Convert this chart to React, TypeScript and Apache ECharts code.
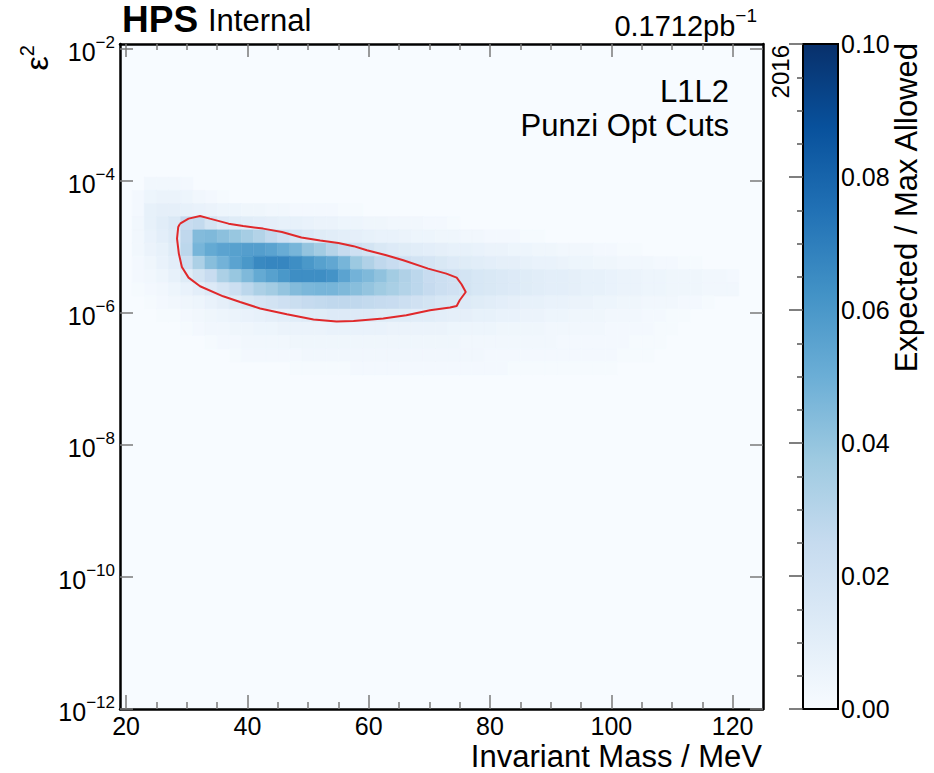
import React, { useEffect, useRef } from "react";
import * as echarts from "echarts";

// Mass bins (MeV): bin centres, 2 MeV wide
const massBinCenters = [
  22, 24, 26, 28, 30, 32, 34, 36, 38, 40, 42, 44, 46, 48, 50, 52, 54, 56, 58, 60,
  62, 64, 66, 68, 70, 72, 74, 76, 78, 80, 82, 84, 86, 88, 90, 92, 94, 96, 98, 100,
  102, 104, 106, 108, 110, 112, 114, 116, 118, 120,
];
const massBinWidth = 2;

// log10(eps^2): lower edge of each row of the ratio map
const logEps2BinLow = [
  -4.14, -4.34, -4.54, -4.74, -4.94, -5.14, -5.34, -5.54, -5.74, -5.94, -6.14, -6.34, -6.54, -6.74, -6.94,
];
const logEps2BinHeight = 0.2;

// Expected / max allowed, in units of 1e-3, one row per eps^2 bin (mass 22 .. 120 MeV)
const ratioRow414 = [0, 3, 3, 3, 2, 0, 0, 0, 0, 0, 0, 0, 0, 0, 0, 0, 0, 0, 0, 0, 0, 0, 0, 0, 0, 0, 0, 0, 0, 0, 0, 0, 0, 0, 0, 0, 0, 0, 0, 0, 0, 0, 0, 0, 0, 0, 0, 0, 0, 0];
const ratioRow434 = [2, 5, 6, 6, 5, 3, 2, 1, 0, 0, 0, 0, 0, 0, 0, 0, 0, 0, 0, 0, 0, 0, 0, 0, 0, 0, 0, 0, 0, 0, 0, 0, 0, 0, 0, 0, 0, 0, 0, 0, 0, 0, 0, 0, 0, 0, 0, 0, 0, 0];
const ratioRow454 = [2, 8, 9, 9, 8, 7, 6, 5, 5, 4, 4, 3, 3, 2, 2, 2, 2, 1, 1, 0, 0, 0, 0, 0, 0, 0, 0, 0, 0, 0, 0, 0, 0, 0, 0, 0, 0, 0, 0, 0, 0, 0, 0, 0, 0, 0, 0, 0, 0, 0];
const ratioRow474 = [3, 8, 11, 14, 24, 26, 18, 13, 12, 11, 10, 9, 8, 8, 7, 6, 6, 5, 5, 4, 4, 3, 3, 3, 2, 2, 1, 0, 0, 0, 0, 0, 0, 0, 0, 0, 0, 0, 0, 0, 0, 0, 0, 0, 0, 0, 0, 0, 0, 0];
const ratioRow494 = [3, 7, 10, 13, 27, 44, 45, 42, 39, 35, 31, 26, 21, 17, 14, 12, 11, 10, 9, 8, 7, 7, 6, 5, 5, 4, 4, 3, 3, 2, 2, 2, 1, 1, 0, 0, 0, 0, 0, 0, 0, 0, 0, 0, 0, 0, 0, 0, 0, 0];
const ratioRow514 = [3, 6, 8, 12, 28, 47, 52, 55, 56, 57, 57, 55, 51, 47, 40, 36, 30, 25, 21, 18, 15, 13, 12, 11, 10, 9, 8, 8, 7, 6, 6, 5, 5, 4, 4, 3, 3, 3, 2, 2, 1, 1, 0, 0, 0, 0, 0, 0, 0, 0];
const ratioRow534 = [2, 4, 7, 10, 22, 33, 43, 48, 55, 60, 66, 67, 67, 64, 60, 56, 53, 47, 38, 32, 27, 24, 21, 19, 17, 15, 13, 12, 11, 10, 9, 9, 8, 7, 7, 6, 5, 5, 4, 4, 3, 3, 3, 2, 2, 1, 1, 0, 0, 0];
const ratioRow554 = [2, 3, 5, 8, 12, 18, 24, 33, 39, 45, 52, 56, 60, 64, 64, 64, 62, 55, 48, 45, 41, 36, 32, 28, 24, 22, 20, 18, 16, 15, 14, 13, 12, 11, 10, 10, 9, 8, 8, 7, 6, 6, 5, 5, 4, 4, 4, 3, 3, 2];
const ratioRow574 = [1, 2, 3, 5, 7, 10, 13, 17, 22, 28, 33, 36, 40, 44, 46, 47, 47, 45, 43, 40, 37, 34, 31, 28, 25, 22, 20, 18, 16, 15, 14, 13, 12, 11, 10, 10, 9, 8, 8, 7, 6, 6, 5, 5, 4, 4, 4, 3, 3, 3];
const ratioRow594 = [0, 1, 2, 3, 4, 5, 7, 9, 12, 15, 17, 19, 21, 23, 25, 26, 27, 27, 27, 26, 25, 24, 22, 20, 18, 16, 15, 13, 12, 11, 10, 9, 8, 8, 7, 7, 6, 6, 5, 5, 4, 4, 3, 3, 3, 2, 2, 1, 0, 0];
const ratioRow614 = [0, 0, 1, 1, 2, 3, 4, 5, 6, 7, 8, 9, 10, 11, 12, 12, 13, 13, 13, 13, 12, 12, 12, 11, 11, 10, 9, 9, 8, 8, 7, 7, 6, 6, 5, 5, 4, 4, 4, 3, 3, 3, 2, 2, 1, 1, 0, 0, 0, 0];
const ratioRow634 = [0, 0, 0, 0, 1, 2, 3, 3, 4, 4, 5, 5, 6, 6, 6, 6, 7, 7, 7, 7, 7, 6, 6, 6, 6, 6, 5, 5, 5, 5, 4, 4, 4, 4, 3, 3, 3, 3, 3, 2, 2, 2, 2, 1, 1, 0, 0, 0, 0, 0];
const ratioRow654 = [0, 0, 0, 0, 0, 0, 1, 2, 2, 3, 3, 3, 3, 4, 4, 4, 4, 4, 4, 4, 4, 4, 4, 4, 4, 4, 4, 3, 3, 3, 3, 3, 3, 3, 3, 2, 2, 2, 2, 2, 2, 1, 1, 1, 0, 0, 0, 0, 0, 0];
const ratioRow674 = [0, 0, 0, 0, 0, 0, 0, 0, 1, 2, 2, 2, 2, 2, 3, 3, 3, 3, 3, 3, 3, 3, 3, 3, 3, 3, 3, 3, 3, 2, 2, 2, 2, 2, 2, 2, 2, 2, 2, 2, 1, 1, 1, 0, 0, 0, 0, 0, 0, 0];
const ratioRow694 = [0, 0, 0, 0, 0, 0, 0, 0, 0, 0, 0, 0, 0, 1, 1, 1, 1, 1, 2, 2, 2, 2, 2, 2, 2, 2, 2, 2, 2, 2, 2, 1, 1, 1, 1, 1, 1, 1, 1, 1, 0, 0, 0, 0, 0, 0, 0, 0, 0, 0];
const ratioRowsPerMille = [
  ratioRow414, ratioRow434, ratioRow454, ratioRow474, ratioRow494, ratioRow514, ratioRow534, ratioRow554,
  ratioRow574, ratioRow594, ratioRow614, ratioRow634, ratioRow654, ratioRow674, ratioRow694,
];

// Sensitivity contour: mass (MeV) and eps^2 of each vertex
const contourMass = [
  28.9, 30.3, 32.2, 33.8, 36.9, 39.3, 42.6, 45.7, 48.9, 52.0, 55.0, 57.5, 59.7, 62.9, 65.7, 69.8, 72.8, 74.5, 75.3, 76.0,
  75.0, 74.5, 73.4, 70.1, 66.2, 62.4, 57.5, 54.7, 50.9, 46.5, 42.1, 38.8, 36.0, 32.2, 30.3, 29.2, 28.7, 28.4, 28.6,
];
const contourEps2 = [
  2.26e-5, 2.69e-5, 2.95e-5, 2.69e-5, 2.26e-5, 2.08e-5, 1.9e-5, 1.69e-5, 1.39e-5, 1.26e-5, 1.15e-5, 1.03e-5, 8.91e-6,
  7.5e-6, 6.3e-6, 4.71e-6, 3.95e-6, 3.44e-6, 2.73e-6, 2.08e-6, 1.56e-6, 1.28e-6, 1.21e-6, 1.1e-6, 9.25e-7, 8.24e-7,
  7.59e-7, 7.41e-7, 7.96e-7, 9.57e-7, 1.17e-6, 1.47e-6, 1.79e-6, 2.54e-6, 3.44e-6, 4.99e-6, 7.94e-6, 1.34e-5, 2.01e-5,
];

// Axis ranges and ticks
const massRange = [19, 125];
const massMajorTicks = [20, 40, 60, 80, 100, 120];
const massMinorTicks = [25, 30, 35, 45, 50, 55, 65, 70, 75, 85, 90, 95, 105, 110, 115];
const eps2ExponentRange = [-12, -1.924];
const eps2TickExponents = [-12, -10, -8, -6, -4, -2];
const ratioRange = [0, 0.1];

const BLUES = ["#f7fbff", "#deebf7", "#c6dbef", "#9ecae1", "#6baed6", "#4292c6", "#2171b5", "#08519c", "#08306b"];
const FONT = '"Liberation Sans", Arial, Helvetica, sans-serif';
const CONTOUR_RED = "#e0292b";

const tickLine = { color: "#7a7a7a", width: 1.5 };
const frameLine = { color: "#000", width: 2.5 };

function massAxis(position: "bottom" | "top", ticks: number[], tickLength: number, withLine: boolean, withLabels: boolean) {
  return {
    gridIndex: 0,
    type: "value",
    position,
    min: massRange[0],
    max: massRange[1],
    z: 10,
    axisLine: { show: withLine, onZero: false, lineStyle: frameLine },
    axisTick: { show: true, inside: true, length: tickLength, lineStyle: tickLine, customValues: ticks },
    axisLabel: withLabels
      ? { show: true, customValues: ticks, fontSize: 25, lineHeight: 26, fontFamily: FONT, color: "#000", margin: 4 }
      : { show: false },
    splitLine: { show: false },
  };
}

function eps2Axis(position: "left" | "right", withLabels: boolean) {
  return {
    gridIndex: 0,
    type: "value",
    position,
    min: eps2ExponentRange[0],
    max: eps2ExponentRange[1],
    z: 10,
    axisLine: { show: true, onZero: false, lineStyle: frameLine },
    axisTick: { show: true, inside: true, length: 13, lineStyle: tickLine, customValues: eps2TickExponents },
    axisLabel: withLabels
      ? {
          show: true,
          customValues: eps2TickExponents,
          margin: 5,
          formatter: (v: number) => {
            const e = Math.round(v);
            return `{b|10}{s|${e < 0 ? "\u2212" : ""}${Math.abs(e)}}`;
          },
          rich: {
            b: { fontSize: 25, fontFamily: FONT, color: "#000", lineHeight: 31, verticalAlign: "bottom" },
            s: { fontSize: 17, fontFamily: FONT, color: "#000", lineHeight: 19, verticalAlign: "top" },
          },
        }
      : { show: false },
    splitLine: { show: false },
  };
}

export default function App() {
  const ref = useRef<HTMLDivElement>(null);

  useEffect(() => {
    if (!ref.current) return;
    const chart = echarts.init(ref.current, null, { renderer: "svg" });

    const cells: number[][] = [];
    ratioRowsPerMille.forEach((row, r) => {
      const lo = logEps2BinLow[r];
      row.forEach((v, c) => {
        if (v > 0) cells.push([massBinCenters[c], lo, lo + logEps2BinHeight, v / 1000]);
      });
    });

    const contour = contourMass.map((m, i) => [m, Math.log10(contourEps2[i])]);
    contour.push(contour[0]);

    const gradientStops = BLUES.map((color, i) => ({ offset: i / (BLUES.length - 1), color }));

    const option: any = {
      animation: false,
      backgroundColor: "#fff",
      grid: [
        {
          left: 120, top: 44, width: 643, height: 665,
          show: true, backgroundColor: BLUES[0], borderWidth: 0,
          containLabel: false, outerBoundsMode: "none",
        },
        { left: 803, top: 44, width: 35, height: 665, containLabel: false, outerBoundsMode: "none" },
      ],
      xAxis: [
        massAxis("bottom", massMajorTicks, 14, true, true),
        massAxis("bottom", massMinorTicks, 7, false, false),
        massAxis("top", massMajorTicks, 13, true, false),
        massAxis("top", massMinorTicks, 6, false, false),
        { gridIndex: 1, type: "value", min: 0, max: 1, show: false },
      ],
      yAxis: [
        eps2Axis("left", true),
        eps2Axis("right", false),
        {
          gridIndex: 1,
          type: "value",
          position: "right",
          min: ratioRange[0],
          max: ratioRange[1],
          interval: 0.02,
          z: 10,
          axisLine: { show: false },
          axisTick: { show: true, inside: true, length: 14, lineStyle: { color: "#555", width: 1.5 } },
          minorTick: { show: true, splitNumber: 4, length: 6, lineStyle: { color: "#555", width: 1.5 } },
          axisLabel: {
            fontSize: 25, fontFamily: FONT, color: "#000", margin: 3,
            formatter: (v: number) => v.toFixed(2),
          },
          splitLine: { show: false },
          minorSplitLine: { show: false },
        },
      ],
      visualMap: {
        type: "continuous",
        show: false,
        min: ratioRange[0],
        max: ratioRange[1],
        dimension: 3,
        seriesIndex: 0,
        inRange: { color: BLUES },
      },
      series: [
        {
          type: "custom",
          xAxisIndex: 0,
          yAxisIndex: 0,
          silent: true,
          z: 2,
          data: cells,
          encode: { x: 0, y: 1 },
          renderItem: (_params: any, api: any) => {
            const m = api.value(0);
            const p0 = api.coord([m - massBinWidth / 2, api.value(2)]);
            const p1 = api.coord([m + massBinWidth / 2, api.value(1)]);
            const color = api.visual("color");
            return {
              type: "rect",
              shape: { x: p0[0], y: p0[1], width: p1[0] - p0[0], height: p1[1] - p0[1] },
              style: { fill: color, stroke: color, lineWidth: 0.5 },
            };
          },
        },
        {
          type: "line",
          xAxisIndex: 0,
          yAxisIndex: 0,
          silent: true,
          z: 3,
          data: contour,
          showSymbol: false,
          symbol: "none",
          smooth: false,
          lineStyle: { color: CONTOUR_RED, width: 2 },
        },
        {
          type: "custom",
          xAxisIndex: 4,
          yAxisIndex: 2,
          silent: true,
          z: 2,
          data: [[0, ratioRange[0], ratioRange[1]]],
          renderItem: (_params: any, api: any) => {
            const a = api.coord([0, api.value(2)]);
            const b = api.coord([1, api.value(1)]);
            return {
              type: "rect",
              shape: { x: a[0], y: a[1], width: b[0] - a[0], height: b[1] - a[1] },
              style: {
                fill: new echarts.graphic.LinearGradient(0, 1, 0, 0, gradientStops),
                stroke: "#000",
                lineWidth: 2,
              },
            };
          },
        },
      ],
      graphic: [
        {
          type: "text", x: 122, y: 19, z: 20,
          style: { text: "HPS", font: `bold 37px ${FONT}`, fill: "#000", textAlign: "left", textVerticalAlign: "middle" },
        },
        {
          type: "text", x: 208, y: 20, z: 20,
          style: { text: "Internal", font: `31px ${FONT}`, fill: "#000", textAlign: "left", textVerticalAlign: "middle" },
        },
        {
          type: "text", x: 757, y: 23, z: 20,
          style: {
            text: "{b|0.1712pb}{s|\u22121}",
            textAlign: "right",
            textVerticalAlign: "middle",
            rich: {
              b: { font: `29px ${FONT}`, fontSize: 29, fontFamily: FONT, fill: "#000", lineHeight: 35, verticalAlign: "bottom" },
              s: { font: `19px ${FONT}`, fontSize: 19, fontFamily: FONT, fill: "#000", lineHeight: 21, verticalAlign: "top" },
            },
          },
        },
        {
          type: "text", x: 729, y: 91, z: 20,
          style: { text: "L1L2", font: `31px ${FONT}`, fill: "#000", textAlign: "right", textVerticalAlign: "middle" },
        },
        {
          type: "text", x: 729, y: 125, z: 20,
          style: { text: "Punzi Opt Cuts", font: `31px ${FONT}`, fill: "#000", textAlign: "right", textVerticalAlign: "middle" },
        },
        {
          type: "text", x: 780, y: 45, z: 20, rotation: Math.PI / 2,
          style: { text: "2016", font: `24px ${FONT}`, fill: "#000", textAlign: "right", textVerticalAlign: "middle" },
        },
        {
          type: "text", x: 906, y: 43, z: 20, rotation: Math.PI / 2,
          style: { text: "Expected / Max Allowed", font: `31px ${FONT}`, fill: "#000", textAlign: "right", textVerticalAlign: "middle" },
        },
        {
          type: "text", x: 762, y: 756, z: 20,
          style: { text: "Invariant Mass / MeV", font: `31px ${FONT}`, fill: "#000", textAlign: "right", textVerticalAlign: "middle" },
        },
        {
          type: "text", x: 35, y: 45, z: 20, rotation: Math.PI / 2,
          style: {
            text: "{e|\u03b5}{s|2}",
            textAlign: "right",
            textVerticalAlign: "middle",
            rich: {
              e: { font: `32px ${FONT}`, fontSize: 32, fontFamily: FONT, fill: "#000", lineHeight: 36, verticalAlign: "bottom" },
              s: { font: `20px ${FONT}`, fontSize: 20, fontFamily: FONT, fill: "#000", lineHeight: 21, verticalAlign: "top" },
            },
          },
        },
      ],
    };

    chart.setOption(option);
    return () => chart.dispose();
  }, []);

  return <div ref={ref} style={{ position: "absolute", left: 0, top: 0, width: 934, height: 773 }} />;
}
